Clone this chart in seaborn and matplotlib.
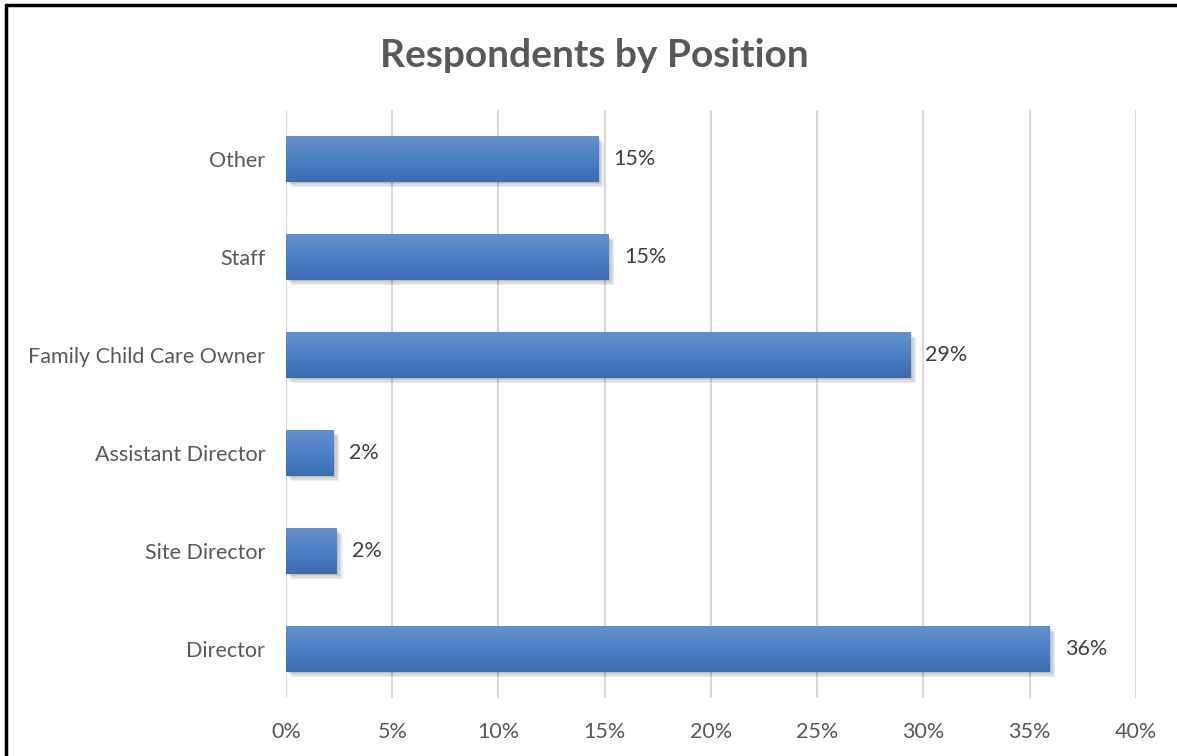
import numpy as np
import pandas as pd
import matplotlib.pyplot as plt
import matplotlib.patheffects as pe
from matplotlib.colors import LinearSegmentedColormap
from matplotlib.lines import Line2D
from matplotlib.ticker import PercentFormatter
import seaborn as sns

positions = ["Other", "Staff", "Family Child Care Owner", "Assistant Director",
             "Site Director", "Director"]
shares = [14.7, 15.2, 29.4, 2.25, 2.4, 35.95]
share_labels = ["15%", "15%", "29%", "2%", "2%", "36%"]
x_ticks = [0, 5, 10, 15, 20, 25, 30, 35, 40]

sns.set_theme(style="white")
plt.rcParams["font.family"] = ["Lato", "DejaVu Sans"]

df = pd.DataFrame({"Position": positions, "Share": shares})

fig = plt.figure(figsize=(11.77, 7.56), dpi=100)
ax = fig.add_axes([0.243, 0.0767, 0.722, 0.7778])

sns.barplot(data=df, x="Share", y="Position", order=positions, orient="h",
            color="#4a7ebf", width=0.46, linewidth=0, edgecolor="none",
            ax=ax, zorder=3)

# gradient fill + soft shadow on each bar
grad = LinearSegmentedColormap.from_list("bar", ["#3a6db3", "#4a80c4", "#6790cb"])
shadow = [pe.SimplePatchShadow(offset=(o, -o), shadow_rgbFace="#000000", alpha=0.07)
          for o in (4, 3, 2, 1)]
for bar in ax.patches:
    bar.set_path_effects(shadow + [pe.Normal()])
    x0, y0 = bar.get_x(), bar.get_y()
    w, h = bar.get_width(), bar.get_height()
    img = ax.imshow(np.linspace(1, 0, 64).reshape(-1, 1), cmap=grad, aspect="auto",
                    extent=[x0, x0 + w, y0 + h, y0], zorder=4, interpolation="bicubic")
    img.set_clip_path(bar)

for i, (v, lab) in enumerate(zip(shares, share_labels)):
    ax.text(v + 0.7, i, lab, va="center", ha="left", fontsize=15.5, color="#404040")

ax.set_xlim(0, 40)
ax.set_ylim(5.5, -0.5)
ax.set_xticks(x_ticks)
ax.xaxis.set_major_formatter(PercentFormatter(decimals=0))
ax.grid(axis="x", color="#d9d9d9", linewidth=1.5, zorder=0)
ax.set_axisbelow(True)
for s in ax.spines.values():
    s.set_visible(False)
ax.tick_params(axis="both", length=0, labelsize=15.5, colors="#595959")
ax.tick_params(axis="y", pad=15)
ax.tick_params(axis="x", pad=17)
ax.set_xlabel("")
ax.set_ylabel("")

fig.text(0.505, 0.927, "Respondents by Position", ha="center", va="center",
         fontsize=28, fontweight="bold", color="#595959")

# outer frame (top and left edges visible)
fig.add_artist(Line2D([0.005, 1.0], [0.993, 0.993], transform=fig.transFigure,
                      color="black", linewidth=2.5))
fig.add_artist(Line2D([0.005, 0.005], [0.0, 0.993], transform=fig.transFigure,
                      color="black", linewidth=2.5))

fig.savefig("out.png", dpi=100)
